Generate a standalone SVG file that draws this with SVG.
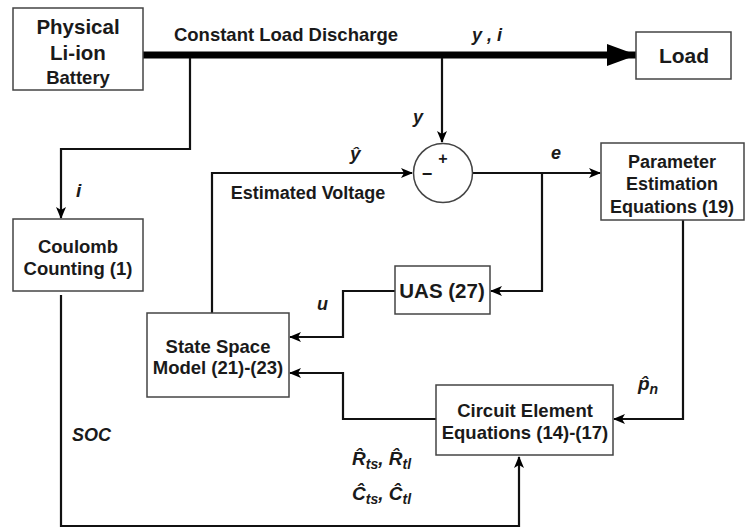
<svg xmlns="http://www.w3.org/2000/svg" width="745" height="527" viewBox="0 0 745 527">
<defs>
<marker id="ah" viewBox="0 0 12 10" refX="11" refY="5" markerWidth="12" markerHeight="10" markerUnits="userSpaceOnUse" orient="auto">
<path d="M0,0 L12,5 L0,10 L3,5 z" fill="#000"/>
</marker>
<marker id="big" viewBox="0 0 30 22" refX="30" refY="11" markerWidth="30" markerHeight="22" markerUnits="userSpaceOnUse" orient="auto">
<path d="M0,0 L30,11 L0,22 z" fill="#000"/>
</marker>
</defs>
<style>
.box{fill:#fff;stroke:#444;stroke-width:1.5}
.t{font-family:"Liberation Sans",Arial,sans-serif;font-weight:bold;fill:#1a1a1a;text-anchor:middle}
.l{font-family:"Liberation Sans",Arial,sans-serif;font-weight:bold;font-style:italic;fill:#1a1a1a}
.w{fill:none;stroke:#111;stroke-width:2.2}
</style>
<rect width="745" height="527" fill="#fff"/>
<g id="connectors">
<path d="M143,55 H637" fill="none" stroke="#000" stroke-width="7" marker-end="url(#big)"/>
<path class="w" d="M190,58 V149 H61 V218" marker-end="url(#ah)"/>
<path class="w" d="M442,58 V142" marker-end="url(#ah)"/>
<path class="w" d="M212,313 V173 H412" marker-end="url(#ah)"/>
<path class="w" d="M473,173 H600" marker-end="url(#ah)"/>
<path class="w" d="M542,173 V291 H491" marker-end="url(#ah)"/>
<path class="w" d="M395,291 H343 V337 H290" marker-end="url(#ah)"/>
<path class="w" d="M436,419 H343 V373 H290" marker-end="url(#ah)"/>
<path class="w" d="M683,220 V419 H614" marker-end="url(#ah)"/>
<path class="w" d="M61,295 V526 H519 V457" marker-end="url(#ah)"/>
</g>
<g id="battery">
<rect class="box" x="13" y="8" width="130" height="82"/>
<text class="t" x="78" y="34" font-size="20.5">Physical</text>
<text class="t" x="78" y="60" font-size="20.5">Li-ion</text>
<text class="t" x="78" y="84" font-size="18.5">Battery</text>
</g>
<g id="load">
<rect class="box" x="636" y="32" width="95" height="47"/>
<text class="t" x="684" y="63" font-size="21">Load</text>
</g>
<g id="coulomb">
<rect class="box" x="13" y="219" width="130" height="72"/>
<text class="t" x="78" y="253" font-size="18.5">Coulomb</text>
<text class="t" x="78" y="275" font-size="18.5">Counting (1)</text>
</g>
<g id="sum">
<circle cx="443" cy="173" r="29.5" fill="#fff" stroke="#444" stroke-width="1.5"/>
<text class="t" x="443" y="164" font-size="16">+</text>
<text class="t" x="427" y="180" font-size="18">−</text>
</g>
<g id="parameter">
<rect class="box" x="601" y="143" width="143" height="77"/>
<text class="t" x="672" y="168" font-size="18">Parameter</text>
<text class="t" x="672" y="190" font-size="18">Estimation</text>
<text class="t" x="672" y="213" font-size="18">Equations (19)</text>
</g>
<g id="uas">
<rect class="box" x="395" y="266" width="95" height="48"/>
<text class="t" x="442" y="298" font-size="20.5">UAS (27)</text>
</g>
<g id="statespace">
<rect class="box" x="147" y="313" width="142" height="84"/>
<text class="t" x="218" y="353" font-size="18.5">State Space</text>
<text class="t" x="218" y="374" font-size="18.5">Model (21)-(23)</text>
</g>
<g id="circuit">
<rect class="box" x="436" y="385" width="177" height="70"/>
<text class="t" x="525" y="417" font-size="18.5">Circuit Element</text>
<text class="t" x="525" y="439" font-size="18.5">Equations (14)-(17)</text>
</g>
<g id="labels">
<text class="t" x="286" y="41" font-size="18.5">Constant Load Discharge</text>
<text class="l" x="472" y="41" font-size="18">y , i</text>
<text class="l" x="413" y="123" font-size="18">y</text>
<text class="l" x="76" y="197" font-size="19">i</text>
<text class="l" x="350" y="160" font-size="19">ŷ</text>
<text class="t" x="308" y="199" font-size="18">Estimated Voltage</text>
<text class="l" x="551" y="159" font-size="18">e</text>
<text class="l" x="317" y="310" font-size="18">u</text>
<text class="l" x="638" y="390" font-size="19">p̂<tspan font-size="14" dy="4">n</tspan></text>
<text class="l" x="72" y="441" font-size="18">SOC</text>
<text class="l" x="352" y="465" font-size="19">R̂<tspan font-size="14" dy="4">ts</tspan><tspan dy="-4">, R̂</tspan><tspan font-size="14" dy="4">tl</tspan></text>
<text class="l" x="352" y="500" font-size="19">Ĉ<tspan font-size="14" dy="4">ts</tspan><tspan dy="-4">, Ĉ</tspan><tspan font-size="14" dy="4">tl</tspan></text>
</g>
</svg>
